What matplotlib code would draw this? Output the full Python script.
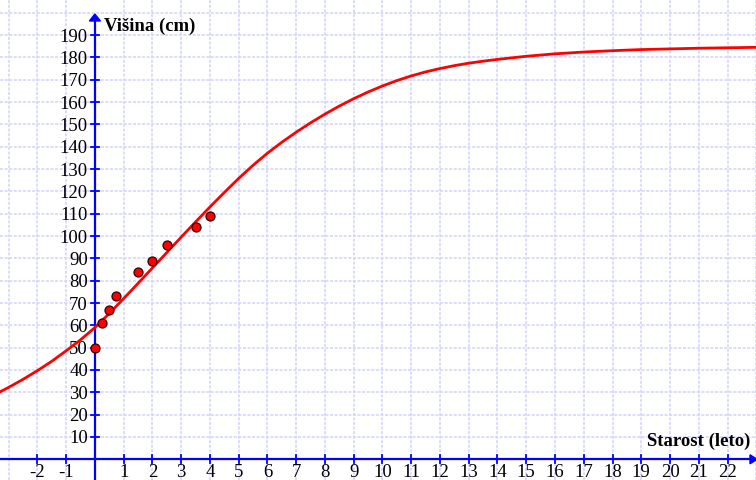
import matplotlib
matplotlib.use("Agg")
import matplotlib.pyplot as plt
from matplotlib.patches import Polygon

# data points (age in years, height in cm)
age = [0, 0.25, 0.5, 0.75, 1.5, 2, 2.5, 3.5, 4]
height = [50, 61, 67, 73, 84, 89, 96, 104, 109]

# fitted curve
curve_x = [-3.3, -3, -2.5, -2, -1.5, -1, -0.5, 0, 0.5, 1, 1.5, 2, 2.5, 3, 3.5, 4,
           4.5, 5, 5.5, 6, 6.5, 7, 7.5, 8, 8.5, 9, 9.5, 10, 10.5, 11, 11.5, 12,
           12.5, 13, 13.5, 14, 15, 16, 17, 18, 19, 20, 21, 22, 23]
curve_y = [30.2, 32.2, 35.8, 39.7, 43.9, 48.6, 53.5, 59, 65.3, 72, 78.8, 85.7,
           92.6, 99.5, 106.3, 113, 119.5, 125.8, 131.7, 137.1, 142, 146.5, 150.7,
           154.6, 158.2, 161.5, 164.5, 167.2, 169.6, 171.7, 173.5, 175.0, 176.3,
           177.4, 178.3, 179.1, 180.5, 181.6, 182.4, 183.0, 183.5, 183.8, 184.1,
           184.3, 184.5]

x_ticks = [-2, -1] + list(range(1, 23))
y_ticks = list(range(10, 200, 10))
x_title = "Starost (leto)"
y_title = "Višina (cm)"

W, H = 756, 480
fig = plt.figure(figsize=(W / 100, H / 100), dpi=100)
ax = fig.add_axes([0, 0, 1, 1])
x0, x1 = -3.30, 22.99
y0, y1 = -9.27, 205.7
ax.set_xlim(x0, x1)
ax.set_ylim(y0, y1)
ax.axis("off")

px_x = (x1 - x0) / W
px_y = (y1 - y0) / H

grid_kw = dict(color="#d2d2ff", lw=1.1, ls=(0, (2, 1)), zorder=1)
for gx in range(-3, 24):
    if gx != 0:
        ax.axvline(gx, **grid_kw)
for gy in range(10, 210, 10):
    ax.axhline(gy, **grid_kw)

blue = "#0000ff"
# axes lines
ax.plot([x0, x1], [0, 0], color=blue, lw=1.6, zorder=3, solid_capstyle="butt")
ytop = y1 - 21 * px_y
ax.plot([0, 0], [y0, ytop], color=blue, lw=1.6, zorder=3, solid_capstyle="butt")
# arrows
ax.add_patch(Polygon([[-5.5 * px_x, ytop], [5.5 * px_x, ytop], [0, y1 - 14 * px_y]],
                     closed=True, color=blue, zorder=3))
ax.add_patch(Polygon([[x1 - 6 * px_x, 4.5 * px_y], [x1 - 6 * px_x, -4.5 * px_y],
                      [x1 + 1 * px_x, 0]], closed=True, color=blue, zorder=3))

# ticks and labels
font = "Liberation Serif"
for t in x_ticks:
    ax.plot([t, t], [-4 * px_y, 4 * px_y], color=blue, lw=1.3, zorder=3)
    ax.text(t, -18 * px_y, str(t), ha="center", va="baseline", fontsize=13.5,
            family=font, color="black")
for t in y_ticks:
    ax.plot([-4 * px_x, 4 * px_x], [t, t], color=blue, lw=1.3, zorder=3)
    ax.text(-7 * px_x, t, str(t), ha="right", va="center_baseline", fontsize=13.5,
            family=font, color="black")

ax.text(x1 - 6 * px_x, 9 * px_y, x_title, ha="right", va="bottom",
        fontsize=13.5, fontweight="bold", family=font)
ax.text(9 * px_x, y1 - 31 * px_y, y_title, ha="left", va="baseline",
        fontsize=13.5, fontweight="bold", family=font)

# curve and points
ax.plot(curve_x, curve_y, color="#ff0000", lw=2.0, zorder=4)
ax.scatter(age, height, s=42, color="#ff0000", edgecolors="#330000",
           linewidths=0.9, zorder=5)

fig.savefig("out.png", dpi=100)
